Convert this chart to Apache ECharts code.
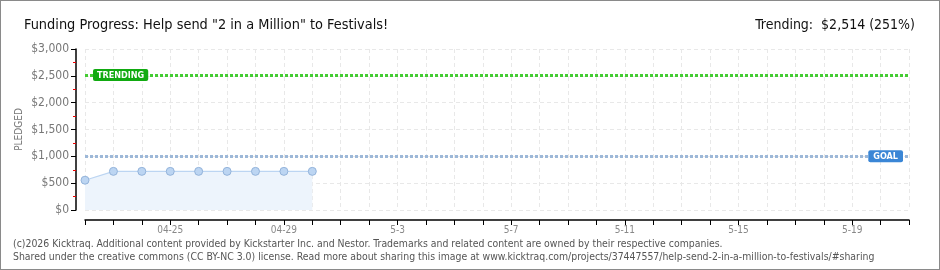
<!DOCTYPE html>
<html><head><meta charset="utf-8">
<script src="https://cdn.jsdelivr.net/npm/echarts@6/dist/echarts.min.js"></script>
<style>
html,body{margin:0;padding:0;background:#fff;}
#wrap{position:relative;width:940px;height:270px;box-sizing:border-box;border:1px solid #8a8a8a;}
#chart{position:absolute;left:-1px;top:-1px;width:940px;height:270px;}
</style></head>
<body><div id="wrap"><div id="chart"></div></div>
<script>
const categories = ['04-22','04-23','04-24','04-25','04-26','04-27','04-28','04-29','04-30','05-01','05-02','05-03','05-04','05-05','05-06','05-07','05-08','05-09','05-10','05-11','05-12','05-13','05-14','05-15','05-16','05-17','05-18','05-19','05-20','05-21'];
const tickLabels = {3:'04-25',7:'04-29',11:'5-3',15:'5-7',19:'5-11',23:'5-15',27:'5-19'};
const pledged = [555,720,720,720,720,720,720,720,720];
const goal = 1000;
const trending = 2514;
const titleText = 'Funding Progress: Help send "2 in a Million" to Festivals!';
const trendText = 'Trending:  $2,514 (251%)';
const footer1 = '(c)2026 Kicktraq. Additional content provided by Kickstarter Inc. and Nestor. Trademarks and related content are owned by their respective companies.';
const footer2 = 'Shared under the creative commons (CC BY-NC 3.0) license. Read more about sharing this image at www.kicktraq.com/projects/37447557/help-send-2-in-a-million-to-festivals/#sharing';

const chart = echarts.init(document.getElementById('chart'), null, {renderer:'canvas'});
const font = '"DejaVu Sans Condensed", "DejaVu Sans", sans-serif';
chart.setOption({
  animation:false,
  textStyle:{fontFamily:font},
  title:[
    {text:titleText,left:19,top:13,textStyle:{fontSize:14.4,fontWeight:'normal',color:'#111',fontFamily:font}},
    {text:trendText,right:20,top:13,textStyle:{fontSize:14,fontWeight:'normal',color:'#111',fontFamily:font}},
    {text:footer1,left:8,top:234,textStyle:{fontSize:10.4,fontWeight:'normal',color:'#555',fontFamily:font}},
    {text:footer2,left:8,top:247,textStyle:{fontSize:10.4,fontWeight:'normal',color:'#555',fontFamily:font}}
  ],
  grid:{left:85,right:31,top:49,bottom:60,containLabel:false,outerBoundsMode:'none'},
  xAxis:{
    type:'category',data:categories,boundaryGap:false,offset:10,
    axisLine:{onZero:false,lineStyle:{color:'#000',width:1.5}},
    axisTick:{show:true,interval:0,length:5,lineStyle:{color:'#000'}},
    axisLabel:{interval:0,formatter:(v,i)=>tickLabels[i]||'',color:'#888',fontSize:10,margin:5},
    splitLine:{show:true,interval:0,lineStyle:{color:'#e8e8e8',type:[4,3]}}
  },
  yAxis:{
    type:'value',min:0,max:3000,interval:500,offset:9,
    name:'PLEDGED',nameLocation:'middle',nameGap:52,nameRotate:90,nameMoveOverlap:false,
    nameTextStyle:{color:'#777',fontSize:10,fontFamily:font},
    axisLine:{show:true,lineStyle:{color:'#000',width:1.5}},
    axisTick:{show:true,length:5,lineStyle:{color:'#000'}},
    minorTick:{show:true,splitNumber:2,length:3,lineStyle:{color:'#e00',width:1}},
    axisLabel:{formatter:v=>'$'+v.toLocaleString('en-US'),color:'#777',fontSize:12,margin:7},
    splitLine:{show:true,lineStyle:{color:'#e8e8e8',type:[4,3]}}
  },
  series:[{
    type:'line',data:pledged,symbol:'circle',symbolSize:8,
    itemStyle:{color:'#bcd5f2',borderColor:'#93b3da',borderWidth:1},
    lineStyle:{color:'#bcd5f2',width:1.2},
    areaStyle:{color:'#edf4fc',opacity:1},
    z:3,
    markLine:{
      symbol:'none',silent:true,
      data:[
        {yAxis:trending,lineStyle:{color:'#44cc33',width:3,type:[3,2]},
         label:{show:true,position:'insideStartTop',formatter:'TRENDING',distance:[8,-6],color:'#fff',fontSize:9,fontWeight:'bold',backgroundColor:'#11aa11',padding:[2,4,1,4],borderRadius:2}},
        {yAxis:goal,lineStyle:{color:'#9db8d8',width:3,type:[3,2]},
         label:{show:true,position:'insideEndTop',formatter:'GOAL',distance:[6,-6],color:'#fff',fontSize:9,fontWeight:'bold',backgroundColor:'#3a86d6',padding:[2,5,1,5],borderRadius:2}}
      ]
    }
  }]
});
</script></body></html>
